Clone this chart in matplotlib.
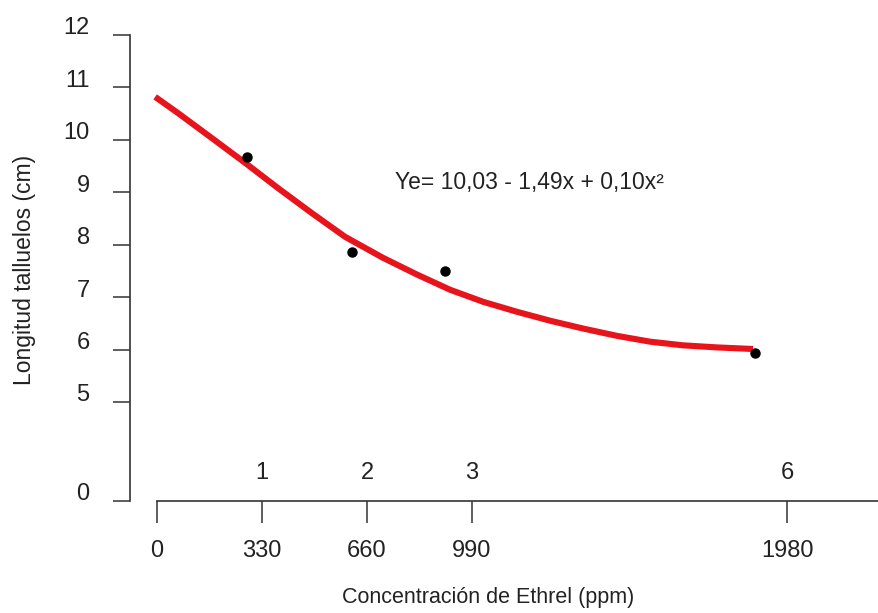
import matplotlib
matplotlib.use("Agg")
import matplotlib.pyplot as plt
import matplotlib.transforms as mtransforms

plt.rcParams['font.family'] = ['Liberation Sans', 'DejaVu Sans']

# observed points (ppm, cm)
obs_x = [283, 613, 905, 1879]
obs_y = [9.67, 7.86, 7.50, 5.93]

# fitted curve as drawn in the figure
curve_x = [-6, 66, 173, 277, 380, 487, 591, 710, 817, 921, 1025, 1131,
           1235, 1339, 1446, 1549, 1653, 1760, 1873]
curve_y = [10.82, 10.51, 10.03, 9.56, 9.08, 8.60, 8.15, 7.75, 7.43, 7.14, 6.91, 6.72,
           6.55, 6.40, 6.26, 6.15, 6.08, 6.04, 6.01]

ppm_ticks = [0, 330, 660, 990, 1980]
dose_labels = ['1', '2', '3', '6']
y_ticks = [5, 6, 7, 8, 9, 10, 11, 12]
y_zero_pos = 3.11   # where the broken axis puts its "0"

W, H = 879, 613
fig = plt.figure(figsize=(W / 100, H / 100), dpi=100)
ax = fig.add_axes([130 / W, 1 - 501 / H, (W - 130) / W, (501 - 35) / H])
ax.set_xlim(-85, 2269)
ax.set_ylim(y_zero_pos, 12)

axis_col = '#333333'
ax.plot(curve_x, curve_y, color='#e8141b', lw=4.4, solid_capstyle='butt',
        solid_joinstyle='round', zorder=2)
ax.plot(obs_x, obs_y, 'o', color='black', ms=6.5, zorder=3)

for s in ['top', 'right']:
    ax.spines[s].set_visible(False)
ax.spines['left'].set_color(axis_col)
ax.spines['bottom'].set_color(axis_col)
ax.spines['left'].set_linewidth(1.2)
ax.spines['bottom'].set_linewidth(1.2)
ax.spines['bottom'].set_bounds(0, 2269)

ax.set_yticks([y_zero_pos] + y_ticks)
ax.set_yticklabels(['0'] + [str(v) for v in y_ticks])
ax.set_xticks(ppm_ticks)
ax.set_xticklabels([str(v) for v in ppm_ticks])
ax.tick_params(axis='y', direction='out', length=12, width=1.1, color=axis_col,
               pad=17, labelsize=17, labelcolor='#222222')
ax.tick_params(axis='x', direction='out', length=16, width=1.1, color=axis_col,
               pad=12, labelsize=17, labelcolor='#222222')

# y labels sit a little above their ticks in the original
off = mtransforms.ScaledTranslation(0, 9 / 100, fig.dpi_scale_trans)
for lab in ax.get_yticklabels():
    lab.set_transform(lab.get_transform() + off)

# dose numbers above the x axis
trans = mtransforms.blended_transform_factory(ax.transData, fig.transFigure)
for x, lab in zip(ppm_ticks[1:], dose_labels):
    ax.text(x, 1 - 473 / H, lab, transform=trans, ha='center', va='center',
            fontsize=17, color='#222222')

fig.text(395 / W, 1 - 182 / H, 'Ye= 10,03 - 1,49x + 0,10x²', ha='left', va='center',
         fontsize=16.5, color='#222222')
fig.text(488 / W, 1 - 597 / H, 'Concentración de Ethrel (ppm)', ha='center', va='center',
         fontsize=15.5, color='#222222')
fig.text(25 / W, 1 - 270 / H, 'Longitud talluelos (cm)', ha='center', va='center',
         rotation=90, fontsize=16.5, color='#222222')

fig.savefig('out.png', dpi=100)
